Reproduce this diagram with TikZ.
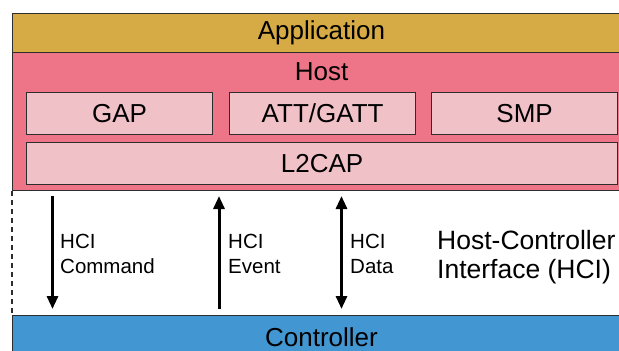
\documentclass[tikz,border=0pt]{standalone}
\usepackage{fontspec}
\setmainfont{Liberation Sans}
\usetikzlibrary{arrows.meta}
\definecolor{appc}{RGB}{214,170,68}
\definecolor{hostc}{RGB}{238,117,135}
\definecolor{innerc}{RGB}{241,193,200}
\definecolor{ctrlc}{RGB}{66,150,210}
\definecolor{edgec}{RGB}{45,45,45}
\tikzset{
  band/.style={draw=edgec, line width=1.4pt, rectangle, inner sep=0pt, anchor=north west},
  inner/.style={draw=edgec, line width=1.2pt, fill=innerc, rectangle, inner sep=0pt, anchor=north west, font=\fontsize{26}{30}\selectfont},
  lbl/.style={font=\fontsize{26}{30}\selectfont},
  hcilbl/.style={font=\fontsize{20.5}{24.5}\selectfont, align=left, anchor=west, inner sep=0pt},
  hcibig/.style={font=\fontsize{26.5}{29}\selectfont, align=left, anchor=west, inner sep=0pt},
  flow/.style={line width=3pt, black, >={Triangle[length=13pt, width=11pt]}}
}
\begin{document}
\begin{tikzpicture}[x=1pt, y=-1pt]
\useasboundingbox (0,0) rectangle (619,351);
\begin{scope}
\clip (0,0) rectangle (619,351);
% bands
\node[band, fill=appc, minimum width=619pt, minimum height=39pt] (app) at (12,13) {};
\node[lbl] (applbl) at (321.5,33) {Application};
\node[band, fill=hostc, minimum width=619pt, minimum height=138pt] (host) at (12,52) {};
\node[lbl] (hostlbl) at (321.5,72) {Host};
\node[inner, minimum width=186pt, minimum height=42pt] (gap) at (26,92) {};
\node[lbl] at (gap.center) {GAP};
\node[inner, minimum width=186pt, minimum height=42pt] (att) at (229,92) {};
\node[lbl] at (att.center) {ATT/GATT};
\node[inner, minimum width=186pt, minimum height=42pt] (smp) at (431,92) {};
\node[lbl] at (smp.center) {SMP};
\node[inner, minimum width=591pt, minimum height=42pt] (l2cap) at (26,142) {};
\node[lbl] at (l2cap.center) {L2CAP};
\node[band, fill=ctrlc, minimum width=619pt, minimum height=45pt] (ctrl) at (12,315) {};
\node[lbl] (ctrllbl) at (321.5,337) {Controller};
% dashed left edge
\draw[edgec, line width=1.2pt, dash pattern=on 5pt off 4pt] (host.south west) -- (ctrl.north west);
% arrows
\coordinate (cmdT) at (52.5,196);
\coordinate (cmdB) at (52.5,309);
\coordinate (evtT) at (219,196);
\coordinate (evtB) at (219,309);
\coordinate (datT) at (341.5,196);
\coordinate (datB) at (341.5,309);
\draw[flow, ->] (cmdT) -- (cmdB);
\draw[flow, ->] (evtB) -- (evtT);
\draw[flow, <->] (datT) -- (datB);
% labels
\node[hcilbl] (cmdlbl) at (60,254) {HCI\\Command};
\node[hcilbl] (evtlbl) at (228,254) {HCI\\Event};
\node[hcilbl] (datlbl) at (350,254) {HCI\\Data};
\node[hcibig] (hcilbl) at (437,257) {Host-Controller\\Interface (HCI)};
\end{scope}
\end{tikzpicture}
\end{document}
